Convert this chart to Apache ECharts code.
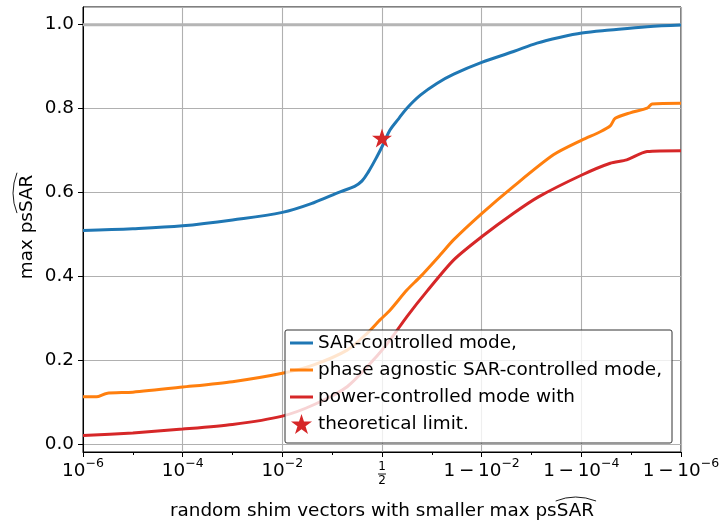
<!DOCTYPE html>
<html>
<head>
<meta charset="utf-8">
<script src="https://cdn.jsdelivr.net/npm/echarts@6/dist/echarts.min.js"></script>
<style>
  html, body { margin: 0; padding: 0; background: #fff; }
  #chart { width: 719px; height: 523px; }
</style>
</head>
<body>
<div id="chart"></div>
<script>
// x is in logit units, log10(p / (1 - p)), so 10^-6 -> -6 and 1/2 -> 0
const xTicks = [-6, -4, -2, 0, 2, 4, 6];
const xTickBase = ['10', '10', '10', '', '1\u2009−\u200910', '1\u2009−\u200910', '1\u2009−\u200910'];
const xTickExp = ['−6', '−4', '−2', '', '−2', '−4', '−6'];
const yTicks = [0, 0.2, 0.4, 0.6, 0.8, 1.0];

const sarX = [-6, -5, -4, -3, -2, -1.37, -0.84, -0.55, -0.40, -0.27, -0.10, 0.02, 0.16, 0.34, 0.50, 0.77, 1.10, 1.44, 2.0, 2.64, 3.11, 3.58, 4.01, 4.58, 5.32, 6];
const sarY = [0.510, 0.514, 0.521, 0.535, 0.553, 0.576, 0.602, 0.615, 0.628, 0.650, 0.686, 0.714, 0.749, 0.777, 0.801, 0.832, 0.860, 0.882, 0.910, 0.936, 0.956, 0.970, 0.980, 0.987, 0.995, 0.999];

const phaseX = [-6, -5.73, -5.53, -5, -4, -3, -2, -1.37, -0.70, -0.30, -0.04, 0.16, 0.50, 0.77, 1.17, 1.44, 2.0, 2.64, 3.44, 4.01, 4.38, 4.58, 4.68, 4.98, 5.32, 5.42, 6];
const phaseY = [0.114, 0.114, 0.122, 0.125, 0.137, 0.150, 0.170, 0.190, 0.225, 0.265, 0.297, 0.320, 0.368, 0.400, 0.452, 0.488, 0.550, 0.615, 0.690, 0.725, 0.745, 0.759, 0.777, 0.790, 0.801, 0.811, 0.813];

const powerX = [-6, -5, -4, -3, -2, -1.37, -0.70, -0.17, 0.16, 0.50, 0.90, 1.44, 2.0, 2.64, 3.14, 4.01, 4.58, 4.91, 5.32, 6];
const powerY = [0.0215, 0.028, 0.037, 0.048, 0.068, 0.095, 0.138, 0.202, 0.249, 0.305, 0.365, 0.440, 0.495, 0.551, 0.590, 0.642, 0.670, 0.678, 0.698, 0.700];

const limitX = [0];
const limitY = [0.73];

const refX = [-6, 6];
const refY = [1, 1];

const legendNames = [
  'SAR-controlled mode,',
  'phase agnostic SAR-controlled mode,',
  'power-controlled mode with',
  'theoretical limit.'
];

const FONT = 'DejaVu Sans';
const FS = 18.4;
const STAR = 'path://M50,0 L61.2,34.5 L97.6,34.5 L68.2,55.9 L79.4,90.5 L50,69.1 L20.6,90.5 L31.8,55.9 L2.4,34.5 L38.8,34.5 Z';
const BAR = 'path://M0,0 L23,0 L23,3 L0,3 Z';

function pairs(xs, ys) {
  return xs.map((x, i) => [x, ys[i]]);
}

// text widths so the wide hats land over "SAR"
const ctx = document.createElement('canvas').getContext('2d');
function textWidth(s, size) {
  ctx.font = size + 'px "' + FONT + '"';
  return ctx.measureText(s).width;
}

const xLabelPre = 'random shim vectors with smaller max ps';
const yLabelPre = 'max ps';
const hatWord = 'SAR';

function labelWithHat(pre, cx, cy, rotation) {
  const full = textWidth(pre + hatWord, FS);
  const start = -full / 2 + textWidth(pre, FS);
  const end = full / 2;
  return {
    type: 'group',
    x: cx, y: cy, rotation: rotation,
    children: [
      {
        type: 'text',
        style: {
          text: pre + hatWord, x: 0, y: 0, align: 'center', verticalAlign: 'middle',
          font: FS + 'px "' + FONT + '"', fill: '#000'
        }
      },
      {
        type: 'bezierCurve',
        shape: { x1: start - 1, y1: -10, x2: end + 2, y2: -10, cpx1: (start + end) / 2, cpy1: -18 },
        style: { stroke: '#000', lineWidth: 0.9, fill: null }
      }
    ]
  };
}

const chart = echarts.init(document.getElementById('chart'));

const lineSeries = (name, xs, ys, color, smooth) => ({
  name: name, type: 'line', data: pairs(xs, ys),
  symbol: 'none', smooth: smooth, z: 3,
  color: color, lineStyle: { color: color, width: 3 }
});

chart.setOption({
  animation: false,
  textStyle: { fontFamily: FONT },
  grid: {
    left: 83, right: 38, top: 7, bottom: 71,
    outerBoundsMode: 'none', containLabel: false,
    show: true, borderColor: '#000', borderWidth: 1, backgroundColor: 'transparent'
  },
  xAxis: {
    type: 'value',
    min: -6, max: 6, interval: 2,
    axisLine: { onZero: false, lineStyle: { color: '#000', width: 1 } },
    axisTick: { inside: false, length: 5, lineStyle: { color: '#000' } },
    minorTick: { show: true, splitNumber: 2, length: 3, lineStyle: { color: '#000' } },
    splitLine: { show: true, lineStyle: { color: '#b0b0b0', width: 1.1 } },
    axisLabel: {
      color: '#000', margin: 8, hideOverlap: false,
      formatter: function (v) {
        const i = xTicks.indexOf(v);
        if (i < 0) return '';
        if (v === 0) return '{f|1}\n{f|2}';
        return '{b|' + xTickBase[i] + '}{s|' + xTickExp[i] + '}';
      },
      rich: {
        f: { fontSize: 12, lineHeight: 14, color: '#000', fontFamily: FONT },
        b: { fontSize: FS, lineHeight: 22, color: '#000', fontFamily: FONT },
        s: { fontSize: 12.5, lineHeight: 12, padding: [0, 0, 15, 0], color: '#000', fontFamily: FONT }
      }
    }
  },
  yAxis: {
    type: 'value',
    min: -0.0175, max: 1.042, splitNumber: 5,
    axisLine: { show: true, onZero: false, lineStyle: { color: '#000', width: 1 } },
    axisTick: { show: true, inside: false, length: 5, lineStyle: { color: '#000' } },
    splitLine: { show: true, lineStyle: { color: '#b0b0b0', width: 1.1 } },
    axisLabel: {
      color: '#000', fontSize: FS, margin: 9,
      showMinLabel: false, showMaxLabel: false,
      formatter: function (v) {
        const hit = yTicks.find(t => Math.abs(t - v) < 1e-6);
        return hit === undefined ? '' : hit.toFixed(1);
      }
    }
  },
  legend: {
    orient: 'vertical',
    left: 285, top: 330,
    padding: [3, 10, 9, 5],
    itemWidth: 23, itemHeight: 20, itemGap: 7,
    symbolKeepAspect: true,
    backgroundColor: 'rgba(255,255,255,0.8)',
    borderColor: '#333', borderWidth: 1, borderRadius: 2,
    textStyle: { fontSize: FS, color: '#000', lineHeight: 20, fontFamily: FONT },
    data: [
      { name: legendNames[0], icon: BAR },
      { name: legendNames[1], icon: BAR },
      { name: legendNames[2], icon: BAR },
      { name: legendNames[3], icon: STAR }
    ]
  },
  series: [
    {
      name: 'ref', type: 'line', data: pairs(refX, refY),
      symbol: 'none', silent: true, z: 1,
      lineStyle: { color: '#b5b5b5', width: 3 }
    },
    lineSeries(legendNames[0], sarX, sarY, '#1f77b4', 0.35),
    lineSeries(legendNames[1], phaseX, phaseY, '#ff7f0e', 0.25),
    lineSeries(legendNames[2], powerX, powerY, '#d62728', 0.25),
    {
      name: legendNames[3], type: 'scatter', data: pairs(limitX, limitY),
      symbol: STAR, symbolSize: 20, symbolKeepAspect: true, z: 4,
      itemStyle: { color: '#d62728', opacity: 1 }
    }
  ]
});

// bar of the 1/2 fraction, placed at the axis position of 0
const fx = chart.convertToPixel({ xAxisIndex: 0 }, 0);
chart.setOption({
  graphic: [
    labelWithHat(xLabelPre, 382, 511, 0),
    labelWithHat(yLabelPre, 27, 227, Math.PI / 2),
    { type: 'line', shape: { x1: fx - 4, y1: 474, x2: fx + 4, y2: 474 }, style: { stroke: '#000', lineWidth: 0.9 } }
  ]
});
</script>
</body>
</html>
